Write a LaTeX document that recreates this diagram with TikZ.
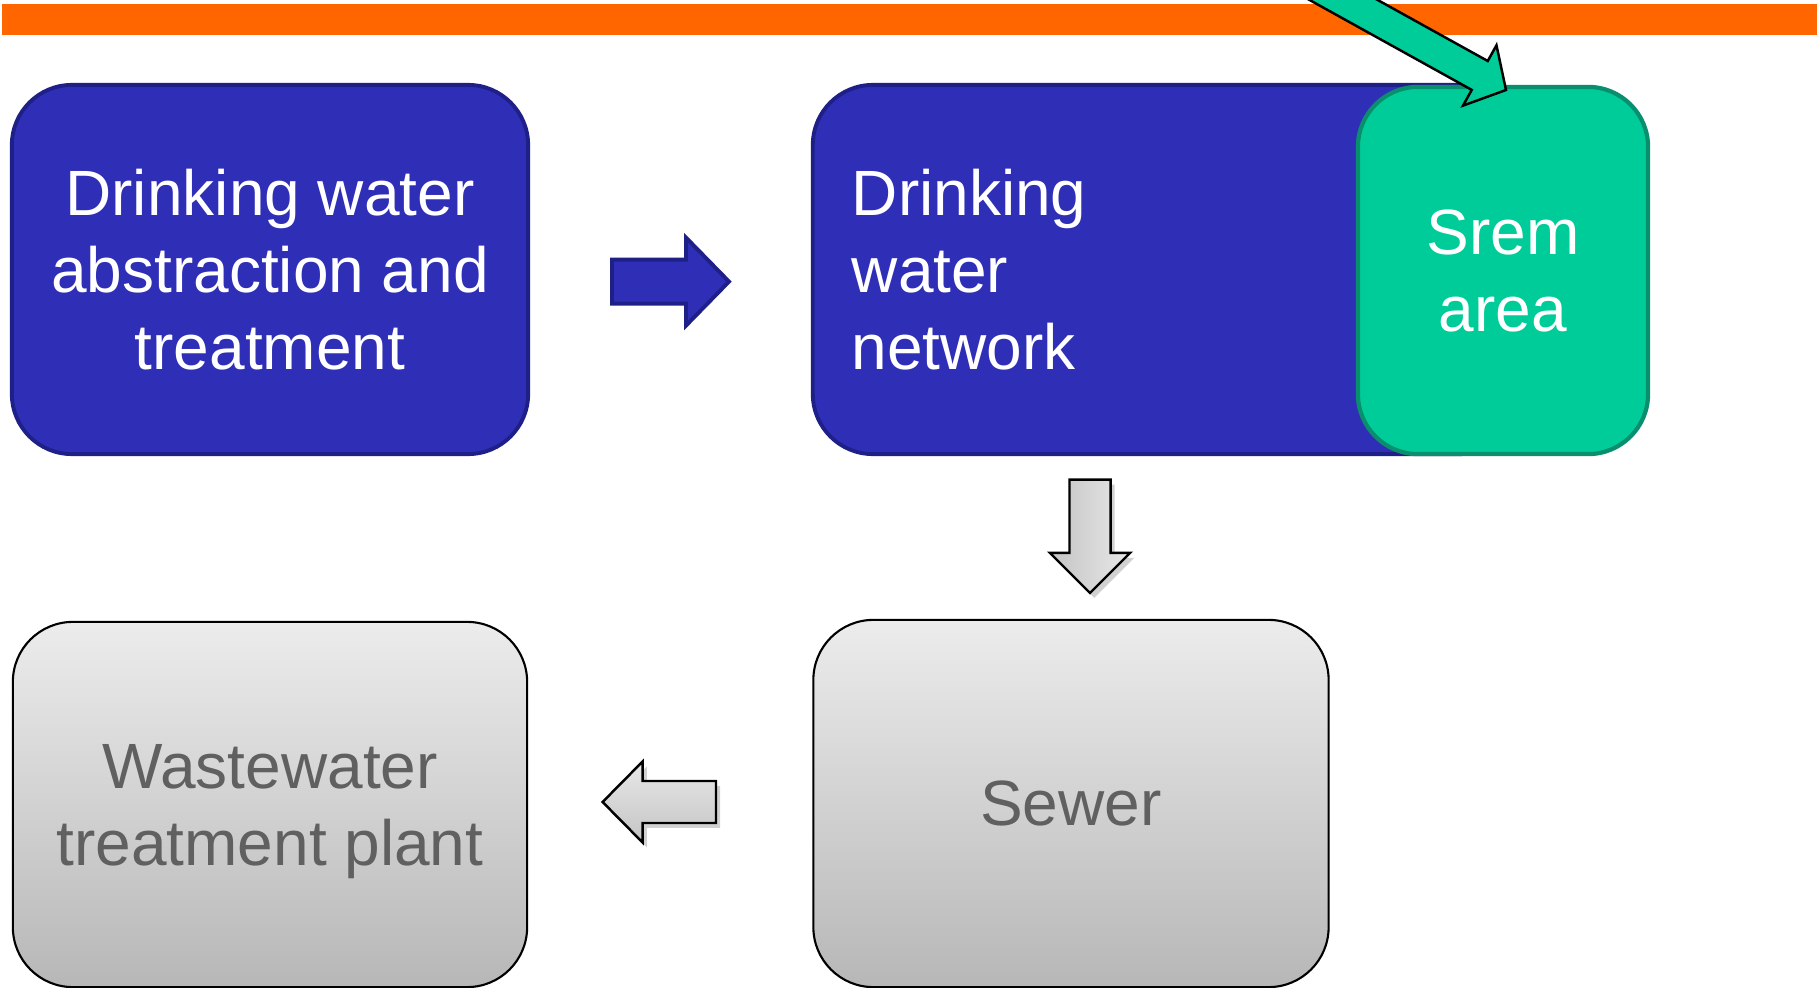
\documentclass[tikz,border=0pt]{standalone}
\usepackage{fontspec}
\setmainfont{Liberation Sans}
\usetikzlibrary{calc}

\definecolor{barorange}{HTML}{FF6600}
\definecolor{boxblue}{HTML}{2F2EB7}
\definecolor{blueedge}{HTML}{1F1F88}
\definecolor{srem}{HTML}{00CC99}
\definecolor{sremedge}{HTML}{0A8F6E}
\definecolor{greytext}{HTML}{606060}
\definecolor{greytop}{HTML}{ECECEC}
\definecolor{greybot}{HTML}{B7B7B7}
\definecolor{arrowlight}{HTML}{E8E8E8}
\definecolor{arrowdark}{HTML}{C4C4C4}

% block arrow: #1 style, #2 start, #3 tip, #4 half shaft width, #5 half head width, #6 head length
\newcommand\blockarrow[6]{%
  \coordinate (#2-head) at ($(#3)!#6!(#2)$);
  \path[#1] ($(#2)!#4!90:(#3)$) -- ($(#2-head)!#4!-90:(#2)$)
    -- ($(#2-head)!#5!-90:(#2)$) -- (#3) -- ($(#2-head)!#5!90:(#2)$)
    -- ($(#2-head)!#4!90:(#2)$) -- ($(#2)!#4!-90:(#3)$) -- cycle;
}

\tikzset{
  box/.style={rectangle, rounded corners=0.6cm, inner sep=0pt, align=center,
    font=\fontsize{18.2pt}{21.9pt}\selectfont},
  bluebox/.style={box, draw=blueedge, line width=1.1pt, fill=boxblue, text=white},
  sremarea/.style={box, draw=sremedge, line width=1.2pt, fill=srem, text=white},
  softshadow/.style={preaction={fill=black, opacity=0.18, draw=none,
    transform canvas={shift={(1.2pt,-1.4pt)}}}},
  greybox/.style={box, draw=black, line width=0.6pt, top color=greytop,
    bottom color=greybot, text=greytext},
  bluearrow/.style={draw=blueedge, line width=1.1pt, fill=boxblue, line join=miter},
  greyarrow/.style={softshadow, draw=black, line width=0.7pt, line join=miter},
  greenarrow/.style={draw=black, line width=0.7pt, fill=srem, line join=miter},
}

\begin{document}
\begin{tikzpicture}[x=0.01cm, y=-0.01cm]
\useasboundingbox (0,0) rectangle (1817,988);
\clip (0,0) rectangle (1817,988);

% header bar
\fill[barorange] (2,4) rectangle (1817,35);

% process boxes
\node[bluebox, minimum width=5.16cm, minimum height=3.69cm] (dwt) at (270,269.5)
  {Drinking water\\abstraction and\\treatment};
\node[bluebox, minimum width=7.07cm, minimum height=3.69cm, text width=6.29cm,
  inner xsep=0.39cm, align=left] (net) at (1166.5,269.5)
  {Drinking\\water\\network};
\node[sremarea, minimum width=2.90cm, minimum height=3.67cm] (srem) at (1503,270.5)
  {Srem\\area};
\node[greybox, minimum width=5.14cm, minimum height=3.65cm, text depth=0pt] (wwtp) at (270,804.5)
  {Wastewater\\treatment plant};
\node[greybox, minimum width=5.15cm, minimum height=3.67cm] (sewer) at (1071,803.5)
  {Sewer};

% flow arrows
\coordinate (b1s) at (612,281.6);
\coordinate (b1t) at (729,281.6);
\blockarrow{bluearrow}{b1s}{b1t}{0.22cm}{0.44cm}{0.43cm}

\coordinate (d1s) at (1090,479.7);
\coordinate (d1t) at (1090,593);
\blockarrow{greyarrow, left color=arrowdark, right color=arrowlight}{d1s}{d1t}{0.205cm}{0.40cm}{0.40cm}

\coordinate (l1s) at (716,802);
\coordinate (l1t) at (602.6,802);
\blockarrow{greyarrow, top color=arrowlight, bottom color=arrowdark}{l1s}{l1t}{0.21cm}{0.405cm}{0.40cm}

% arrow pointing into the Srem area
\coordinate (g1s) at (1068.7,-152.4);
\coordinate (g1t) at (1506,90);
\blockarrow{greenarrow}{g1s}{g1t}{0.165cm}{0.345cm}{0.30cm}
\end{tikzpicture}
\end{document}
